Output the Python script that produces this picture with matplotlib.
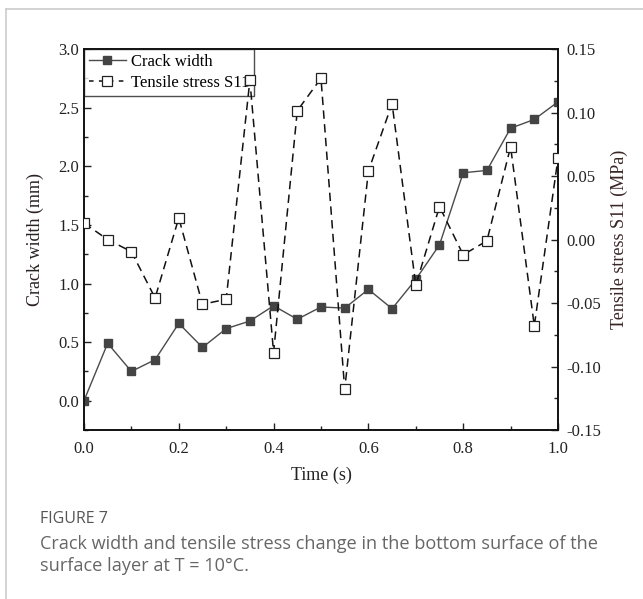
import numpy as np
import matplotlib
matplotlib.use("Agg")
from matplotlib import pyplot as plt
from matplotlib.lines import Line2D

plt.rcParams['font.family'] = ['Liberation Serif', 'DejaVu Serif']

time = [0.0, 0.05, 0.10, 0.15, 0.20, 0.25, 0.30, 0.35, 0.40, 0.45, 0.50,
        0.55, 0.60, 0.65, 0.70, 0.75, 0.80, 0.85, 0.90, 0.95, 1.00]
crack_width = [0.0, 0.49, 0.25, 0.35, 0.66, 0.455, 0.615, 0.68, 0.81, 0.695, 0.80,
               0.79, 0.95, 0.785, 1.035, 1.33, 1.945, 1.965, 2.325, 2.40, 2.55]
stress = [0.013, 0.0, -0.0095, -0.046, 0.017, -0.051, -0.047, 0.1255, -0.089, 0.1015, 0.127,
          -0.118, 0.054, 0.107, -0.036, 0.026, -0.012, -0.001, 0.073, -0.068, 0.064]

fig = plt.figure(figsize=(6.43, 5.99), dpi=100)
fig.patch.set_facecolor("white")

ax = fig.add_axes([0.1306, 0.2821, 0.7372, 0.6359])
ax2 = ax.twinx()

ax.plot(time, crack_width, "-", color="#4a4a4a", lw=1.0, marker="s", ms=5.5,
        mfc="#444444", mec="#444444", zorder=3)
ax2.plot(time, stress, "--", color="#111111", lw=1.1, dashes=(5.5, 3.5), marker="s", ms=6.5,
         mfc="white", mec="#222222", mew=0.9, zorder=3)

ax.set_xlim(0, 1.0)
ax.set_ylim(-0.25, 3.0)
ax2.set_ylim(-0.15, 0.15)

ax.set_xticks([0.0, 0.2, 0.4, 0.6, 0.8, 1.0])
ax.set_xticks(np.arange(0.1, 1.0, 0.2), minor=True)
ax.set_yticks([0.0, 0.5, 1.0, 1.5, 2.0, 2.5, 3.0])
ax.set_yticks(np.arange(-0.25, 3.0, 0.5), minor=True)
ax2.set_yticks([-0.15, -0.10, -0.05, 0.0, 0.05, 0.10, 0.15])
ax2.set_yticks(np.arange(-0.125, 0.15, 0.05), minor=True)
ax.xaxis.set_major_formatter(matplotlib.ticker.FormatStrFormatter("%.1f"))
ax.yaxis.set_major_formatter(matplotlib.ticker.FormatStrFormatter("%.1f"))
ax2.yaxis.set_major_formatter(matplotlib.ticker.FormatStrFormatter("%.2f"))

ax.tick_params(axis="both", which="both", direction="in", labelsize=12, colors="#222222",
               top=False, right=False)
ax.tick_params(which="major", length=5, width=1)
ax.tick_params(which="minor", length=3, width=1)
ax2.tick_params(axis="y", which="both", direction="in", labelsize=12, colors="#222222")
ax2.tick_params(which="major", length=5, width=1)
ax2.tick_params(which="minor", length=3, width=1)
ax.tick_params(axis="x", pad=8)
ax2.tick_params(axis="y", pad=6)

for a in (ax, ax2):
    for s in a.spines.values():
        s.set_linewidth(1.2)
        s.set_color("#111111")

ax.set_xlabel("Time (s)", fontsize=13, color="#222222", labelpad=7)
ax.set_ylabel("Crack width (mm)", fontsize=13, color="#2a2020", labelpad=10)
ax2.set_ylabel("Tensile stress S11 (MPa)", fontsize=13, color="#3a2525", labelpad=7)

handles = [
    Line2D([], [], color="#4a4a4a", lw=1.0, marker="s", ms=5.5, mfc="#444444", mec="#444444"),
    Line2D([], [], color="#111111", lw=1.1, ls="--", dashes=(3, 3.5), marker="s", ms=6.5,
           mfc="white", mec="#222222", mew=0.9),
]
leg = ax.legend(handles, ["Crack width", "Tensile stress S11"], loc="upper left",
                bbox_to_anchor=(0.0, 1.0), fontsize=12, frameon=True, fancybox=False,
                borderpad=0.3, handlelength=2.2, handletextpad=0.3, labelspacing=0.3,
                borderaxespad=0.0)
leg.get_frame().set_edgecolor("#222222")
leg.get_frame().set_linewidth(1.0)

# page frame lines
fig.add_artist(Line2D([6/643, 1.0], [1 - 9/599, 1 - 9/599], color="#cccccc", lw=1.2))
fig.add_artist(Line2D([6/643, 6/643], [1 - 9/599, 0.0], color="#cccccc", lw=1.2))

fig.text(40/643, 1 - 519/599, "FIGURE 7", fontsize=11.5, color="#555555",
         family=["Open Sans", "DejaVu Sans"], va="center", ha="left")
fig.text(40/643, 1 - 555/599,
         "Crack width and tensile stress change in the bottom surface of the\nsurface layer at T = 10°C.",
         fontsize=13.1, color="#666666", family=["Open Sans", "DejaVu Sans"],
         va="center", ha="left", linespacing=1.35)

fig.savefig("out.png", dpi=100)
